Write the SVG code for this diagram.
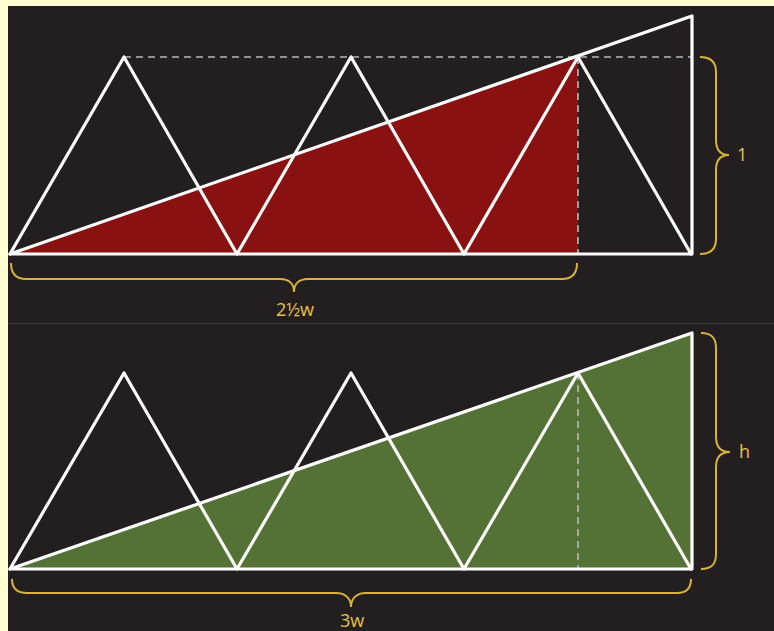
<svg xmlns="http://www.w3.org/2000/svg" width="774" height="631" viewBox="0 0 774 631">
<style>
.ln{fill:none;stroke:#ffffff;stroke-width:3.2;stroke-linejoin:round;stroke-linecap:round}
.dash{fill:none;stroke:#b8b8b8;stroke-width:1.6;stroke-dasharray:7 5}
.brace{fill:none;stroke:#d9b23c;stroke-width:2}
.lbl{font-family:"Open Sans","Liberation Sans",sans-serif;font-size:18px;fill:#e6c34a}
</style>
<rect x="0" y="0" width="774" height="631" fill="#ffffd2"/>
<rect x="8" y="6" width="766" height="625" fill="#231f20"/>
<line x1="8" y1="323.5" x2="774" y2="323.5" stroke="#3c3a3a" stroke-width="1"/>

<g id="top-diagram">
  <polygon points="10,254 578,57 578,254" fill="#8a1111"/>
  <line class="dash" x1="124" y1="57" x2="692" y2="57"/>
  <line class="dash" x1="578" y1="57" x2="578" y2="254"/>
  <polyline class="ln" points="10,254 124,57 237,254 351,57 464,254 578,57 691,254"/>
  <polygon class="ln" points="10,254 692,16 692,254"/>
</g>

<g id="top-braces">
  <path class="brace" d="M700,57 C711,57 716,62 716,72 V140 C716,150 720,155 729,155 C720,155 716,160 716,170 V239 C716,249 711,254 700,254"/>
  <text class="lbl" x="737" y="161">1</text>
  <path class="brace" d="M11,263 C11,273 16,279 26,279 H280 C289,279 294,284 294,292 C294,284 299,279 308,279 H562 C572,279 577,273 577,263"/>
  <text class="lbl" x="295" y="316" text-anchor="middle">2½w</text>
</g>

<g id="bottom-diagram">
  <polygon points="10,569 692,333 692,569" fill="#557236"/>
  <line class="dash" x1="578" y1="373" x2="578" y2="569"/>
  <polyline class="ln" points="10,569 124,373 237,569 351,373 464,569 578,373 691,569"/>
  <polygon class="ln" points="10,569 692,333 692,569"/>
</g>

<g id="bottom-braces">
  <path class="brace" d="M701,333 C712,333 716,338 716,348 V437 C716,447 720,452 730,452 C720,452 716,457 716,467 V554 C716,564 712,569 701,569"/>
  <text class="lbl" x="739" y="458">h</text>
  <path class="brace" d="M12,579 C12,588 17,593 27,593 H336 C345,593 351,598 351,607 C351,598 357,593 366,593 H677 C686,593 691,588 691,579"/>
  <text class="lbl" x="352" y="627" text-anchor="middle">3w</text>
</g>
</svg>
